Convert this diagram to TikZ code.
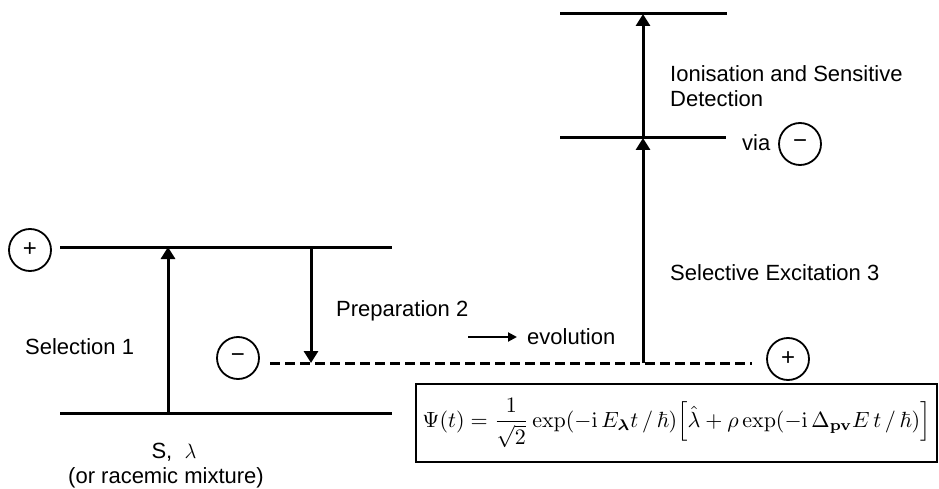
\documentclass[tikz,border=0pt]{standalone}
\usepackage{amsmath,amssymb}
\usepackage[no-math]{fontspec}
\setmainfont{Liberation Sans}
\usepackage{graphicx}
\usetikzlibrary{arrows.meta}
\begin{document}
\begin{tikzpicture}[x=1pt,y=-1pt,
  level/.style={line width=3pt},
  pump/.style={line width=3pt,-{Triangle[width=14pt,length=12pt]}},
  sign/.style={circle,draw,line width=1.8pt,minimum size=42pt,inner sep=0pt,font=\fontsize{24}{24}\selectfont},
  lab/.style={font=\fontsize{22}{26}\selectfont,inner sep=0pt}]
\useasboundingbox (0,0) rectangle (939,489);
% levels
\coordinate (L1a) at (60,413); \coordinate (L1b) at (392,413);
\coordinate (L2a) at (60,247); \coordinate (L2b) at (392,247);
\coordinate (Da) at (270,363); \coordinate (Db) at (752,363);
\coordinate (M1a) at (560,138); \coordinate (M1b) at (726,138);
\coordinate (T1a) at (560,14); \coordinate (T1b) at (727,14);
\draw[level] (L1a) -- (L1b);
\draw[level] (L2a) -- (L2b);
\draw[level,dash pattern=on 10pt off 5pt] (Da) -- (Db);
\draw[level] (M1a) -- (M1b);
\draw[level] (T1a) -- (T1b);
% arrows
\coordinate (s0) at (168,413); \coordinate (s1) at (168,247);
\coordinate (p0) at (311,247); \coordinate (p1) at (311,363);
\coordinate (e0) at (643,363); \coordinate (e1) at (643,138); \coordinate (e2) at (643,14);
\draw[pump] (s0) -- (s1);
\draw[pump] (p0) -- (p1);
\draw[pump] (e0) -- (e1);
\draw[pump] (e1) -- (e2);
% signs
\node[sign] (plusL) at (30,250) {+};
\node[sign] (minusL) at (238,358) {−};
\node[sign] (plusR) at (788,359) {+};
\node[sign] (minusT) at (800,144) {−};
% labels
\node[lab,anchor=west] (sel) at (25,347) {Selection 1};
\node[lab] (sl) at (174,452) {S,\ \ $\lambda$};
\node[lab] (rac) at (166,478) {(or racemic mixture)};
\node[lab,anchor=west] (prep) at (336,311) {Preparation 2};
\node[lab,anchor=west] (evo) at (527,337) {evolution};
\coordinate (ea) at (468,337); \coordinate (eb) at (517,337);
\draw[line width=2pt,-{Triangle[width=9pt,length=9pt]}] (ea) -- (eb);
\node[lab,anchor=west] (selx) at (670,273) {Selective Excitation 3};
\node[lab,anchor=north west,align=left] (ion) at (670,65) {Ionisation and Sensitive\\[-1pt]Detection};
\node[lab,anchor=west] (via) at (742,143) {via};
% equation
\node[draw,line width=1.5pt,minimum width=521pt,minimum height=78pt,inner sep=0pt] (eq) at (676.5,423) {\resizebox{508pt}{!}{$\Psi(t)=\dfrac{1}{\sqrt{2}}\exp(-\mathrm{i}\,E_{\boldsymbol{\lambda}}t\,/\,\hbar)\Bigl[\hat{\lambda}+\rho\exp(-\mathrm{i}\,\Delta_{\mathbf{pv}}E\,t\,/\,\hbar)\Bigr]$}};
\end{tikzpicture}
\end{document}
